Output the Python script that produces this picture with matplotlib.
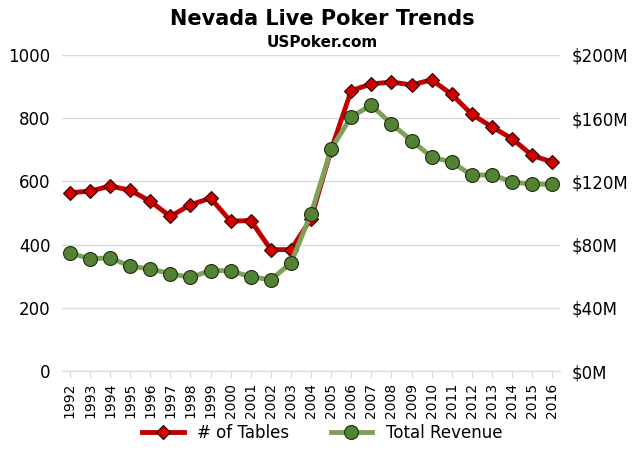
import matplotlib.pyplot as plt
from matplotlib.ticker import FuncFormatter

years = list(range(1992, 2017))
tables = [564, 569, 585, 572, 537, 489, 526, 547, 474, 476, 384, 384, 482, 700,
          887, 908, 914, 905, 921, 875, 812, 772, 735, 682, 661]
revenue = [74.8, 71.0, 71.6, 66.4, 64.6, 61.6, 59.2, 63.6, 63.4, 59.6, 57.8, 68.4, 99.6, 140.4,
           161.0, 168.0, 156.4, 145.8, 135.4, 132.2, 123.8, 124.2, 119.6, 118.2, 118.2]

fig = plt.figure(figsize=(6.44, 4.57), dpi=100)
ax = fig.add_axes([0.096, 0.188, 0.774, 0.692])
ax2 = ax.twinx()

ax.plot(years, tables, color='#C00000', lw=3.5, marker='D', ms=7.5,
        mfc='#D00000', mec='#300000', mew=0.8, label='# of Tables', zorder=3)
ax2.plot(years, revenue, color='#7FA05A', lw=3.5, marker='o', ms=10,
         mfc='#548235', mec='#1E3010', mew=0.8, label='Total Revenue', zorder=3)

ax.set_ylim(0, 1000)
ax.set_yticks(range(0, 1001, 200))
ax2.set_ylim(0, 200)
ax2.set_yticks(range(0, 201, 40))
ax2.yaxis.set_major_formatter(FuncFormatter(lambda v, p: f'${v:.0f}M'))
ax.set_xlim(1991.6, 2016.4)
ax.set_xticks(years)
ax.set_xticklabels([str(y) for y in years], rotation=90)

ax.grid(axis='y', color='#D9D9D9', lw=1)
ax.set_axisbelow(True)
for a in (ax, ax2):
    for s in a.spines.values():
        s.set_visible(False)
    a.tick_params(axis='y', length=0, labelsize=12, colors='#000000', pad=8)
ax.spines['bottom'].set_visible(True)
ax.spines['bottom'].set_color('#D9D9D9')
ax.tick_params(axis='x', labelsize=10, color='#D9D9D9', length=5, labelcolor='black')

fig.text(0.5, 0.958, 'Nevada Live Poker Trends', ha='center', va='center',
         fontsize=15, fontweight='bold')
fig.text(0.5, 0.906, 'USPoker.com', ha='center', va='center',
         fontsize=11, fontweight='bold')

h1, l1 = ax.get_legend_handles_labels()
h2, l2 = ax2.get_legend_handles_labels()
fig.legend(h1 + h2, l1 + l2, loc='center', bbox_to_anchor=(0.5, 0.052), ncol=2,
           frameon=False, fontsize=12, handlelength=2.5, columnspacing=2.5)

fig.savefig('out.png', dpi=100)
